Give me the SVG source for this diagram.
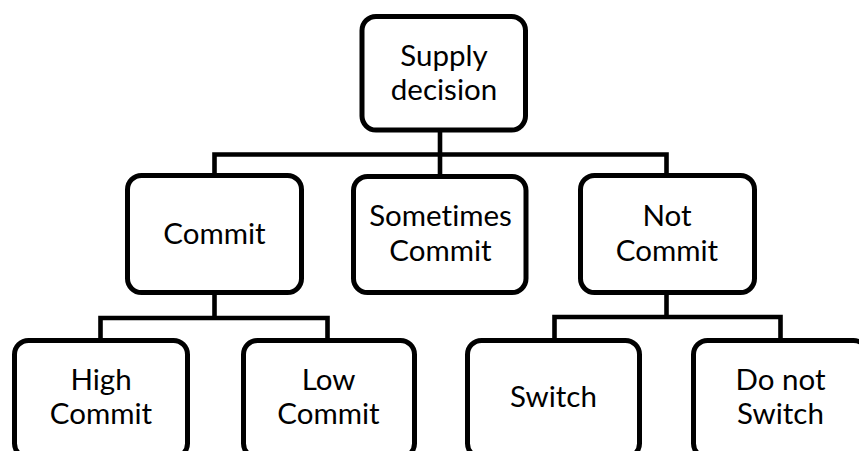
<svg xmlns="http://www.w3.org/2000/svg" width="859" height="451" viewBox="0 0 859 451">
  <style>
    .box { fill: #ffffff; stroke: #000000; stroke-width: 5; }
    .wire { fill: none; stroke: #000000; stroke-width: 4.6; stroke-linejoin: miter; stroke-linecap: butt; }
    .lbl { font-family: "Lato", "Liberation Sans", sans-serif; font-size: 29.5px; fill: #000000; text-anchor: middle; font-variant-ligatures: none; }
  </style>
  <rect x="0" y="0" width="859" height="451" fill="#ffffff"/>

  <!-- connectors -->
  <g id="connectors">
    <path class="wire" d="M440 130 V154.5"/>
    <path class="wire" d="M214.5 176 V154.5 H666.5 V176"/>
    <path class="wire" d="M440 154.5 V177"/>
    <path class="wire" d="M214.5 292.5 V318"/>
    <path class="wire" d="M100.5 341 V318 H327.5 V341"/>
    <path class="wire" d="M666.5 292.5 V317"/>
    <path class="wire" d="M554.5 341 V317 H780.5 V341"/>
  </g>

  <!-- top level -->
  <g id="supply-decision">
    <rect class="box" x="362" y="16.5" width="163.5" height="113.5" rx="14"/>
    <text class="lbl" x="444" y="65.5">Supply</text>
    <text class="lbl" x="444" y="99.5">decision</text>
  </g>

  <!-- second level -->
  <g id="commit">
    <rect class="box" x="127.5" y="175.5" width="174" height="117" rx="14"/>
    <text class="lbl" x="214.5" y="244">Commit</text>
  </g>
  <g id="sometimes-commit">
    <rect class="box" x="353.5" y="176.5" width="172.5" height="116" rx="14"/>
    <text class="lbl" x="440.5" y="225.5">Sometimes</text>
    <text class="lbl" x="440.5" y="260.5">Commit</text>
  </g>
  <g id="not-commit">
    <rect class="box" x="580.5" y="175.5" width="174" height="117" rx="14"/>
    <text class="lbl" x="667" y="226">Not</text>
    <text class="lbl" x="667" y="260.5">Commit</text>
  </g>

  <!-- third level -->
  <g id="high-commit">
    <rect class="box" x="14.5" y="340.5" width="173" height="117" rx="14"/>
    <text class="lbl" x="101" y="389.5">High</text>
    <text class="lbl" x="101" y="423.5">Commit</text>
  </g>
  <g id="low-commit">
    <rect class="box" x="243.5" y="340.5" width="171" height="117" rx="14"/>
    <text class="lbl" x="328.5" y="389.5">Low</text>
    <text class="lbl" x="328.5" y="423.5">Commit</text>
  </g>
  <g id="switch">
    <rect class="box" x="467.5" y="340.5" width="172" height="117" rx="14"/>
    <text class="lbl" x="553.5" y="406.5">Switch</text>
  </g>
  <g id="do-not-switch">
    <rect class="box" x="693.5" y="340.5" width="174" height="117" rx="14"/>
    <text class="lbl" x="780.5" y="389.5">Do not</text>
    <text class="lbl" x="780.5" y="423.5">Switch</text>
  </g>
</svg>
